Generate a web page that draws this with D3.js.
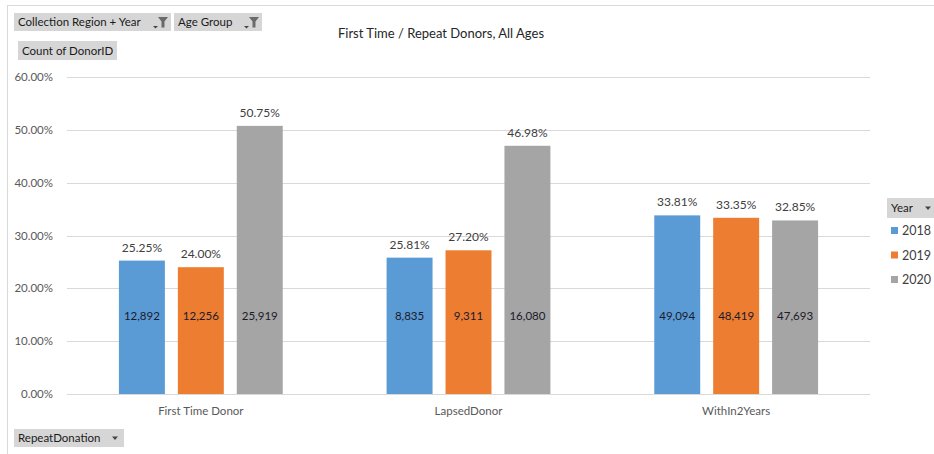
<!DOCTYPE html>
<html><head><meta charset="utf-8">
<script src="https://cdn.jsdelivr.net/npm/d3@7"></script>
<style>
body{margin:0;background:#fff;}
svg{display:block;font-family:Lato,"Noto Sans",sans-serif;}
</style></head>
<body><svg id="c" width="934" height="454"></svg>
<script>
const categories = ["First Time Donor", "LapsedDonor", "WithIn2Years"];
const years = ["2018", "2019", "2020"];
const pct2018 = [25.25, 25.81, 33.81];
const pct2019 = [24.00, 27.20, 33.35];
const pct2020 = [50.75, 46.98, 32.85];
const cnt2018 = [12892, 8835, 49094];
const cnt2019 = [12256, 9311, 48419];
const cnt2020 = [25919, 16080, 47693];
const yTicks = [0, 10, 20, 30, 40, 50, 60];
const colors = ["#5b9bd5", "#ed7d31", "#a5a5a5"];

const pcts = [pct2018, pct2019, pct2020];
const cnts = [cnt2018, cnt2019, cnt2020];
const rows = [];
categories.forEach((c, i) => years.forEach((yr, j) => rows.push({cat: c, year: yr, pct: pcts[j][i], cnt: cnts[j][i], k: j})));

const svg = d3.select("#c");
// outer border
svg.append("rect").attr("x", 7.5).attr("y", 5.5).attr("width", 940).attr("height", 460)
  .attr("fill", "none").attr("stroke", "#d9d9d9");

const L = 67, R = 870, T = 77, B = 394;
const y = d3.scaleLinear().domain([0, 60]).range([B, T]);
const x0 = d3.scaleBand().domain(categories).range([L, R]).padding(0);
const x1 = d3.scaleBand().domain(years).range([x0.bandwidth() * 0.194, x0.bandwidth() * 0.806]).paddingInner(0.22).paddingOuter(0);

// gridlines
svg.append("g").selectAll("line").data(yTicks).join("line")
  .attr("x1", L).attr("x2", R).attr("y1", d => Math.round(y(d)) + 0.5).attr("y2", d => Math.round(y(d)) + 0.5)
  .attr("stroke", "#d9d9d9").attr("stroke-width", 1);

// y axis labels
svg.append("g").selectAll("text").data(yTicks).join("text")
  .attr("x", 53).attr("y", d => y(d) + 4).attr("text-anchor", "end")
  .attr("font-size", 11.5).attr("fill", "#595959").text(d => d.toFixed(2) + "%");

// bars
const g = svg.append("g");
g.selectAll("rect").data(rows).join("rect")
  .attr("x", d => x0(d.cat) + x1(d.year)).attr("width", x1.bandwidth())
  .attr("y", d => y(d.pct)).attr("height", d => B - y(d.pct))
  .attr("fill", d => colors[d.k]);

// percent labels
g.selectAll("text.p").data(rows).join("text").attr("class", "p")
  .attr("x", d => x0(d.cat) + x1(d.year) + x1.bandwidth() / 2).attr("y", d => y(d.pct) - 9)
  .attr("text-anchor", "middle").attr("font-size", 12).attr("fill", "#404040")
  .text(d => d.pct.toFixed(2) + "%");

// count labels
const labelLevel = 14.8;
g.selectAll("text.c").data(rows).join("text").attr("class", "c")
  .attr("x", d => x0(d.cat) + x1(d.year) + x1.bandwidth() / 2).attr("y", y(labelLevel) + 4)
  .attr("text-anchor", "middle").attr("font-size", 11.5).attr("fill", "#1a1a2a")
  .text(d => d3.format(",")(d.cnt));

// category labels
svg.append("g").selectAll("text").data(categories).join("text")
  .attr("x", d => x0(d) + x0.bandwidth() / 2).attr("y", 415).attr("text-anchor", "middle")
  .attr("font-size", 11.5).attr("fill", "#595959").text(d => d);

// title
svg.append("text").attr("x", 441).attr("y", 38).attr("text-anchor", "middle")
  .attr("font-size", 13).attr("fill", "#262626").text("First Time / Repeat Donors, All Ages");

// field buttons
function button(x, yy, w, h, label, icon) {
  const b = svg.append("g");
  b.append("rect").attr("x", x).attr("y", yy).attr("width", w).attr("height", h).attr("fill", "#d6d6d6");
  b.append("text").attr("x", x + 4).attr("y", yy + h / 2 + 4).attr("font-size", 11.5).attr("fill", "#1a1a1a").text(label);
  if (icon === "filter") {
    const ix = x + w - 18, iy = yy + 4;
    b.append("path").attr("d", `M${ix},${iy + 9} l5,0 l-2.5,2.5 z`).attr("fill", "#444");
    b.append("path").attr("d", `M${ix + 5},${iy} l10,0 l-3.5,4.5 l0,6 l-3,0 l0,-6 z`).attr("fill", "#6a6a6a");
  } else if (icon === "drop") {
    const ix = x + w - 12, iy = yy + h / 2 - 1.5;
    b.append("path").attr("d", `M${ix},${iy} l6,0 l-3,3.5 z`).attr("fill", "#444");
  }
}
button(14, 13, 157, 18, "Collection Region + Year", "filter");
button(174, 13, 88, 18, "Age Group", "filter");
button(18, 41, 99, 19, "Count of DonorID", null);
button(887, 198, 50, 20, "Year", "drop");
button(14, 429, 110, 18, "RepeatDonation", "drop");

// legend
const leg = svg.append("g").selectAll("g").data(years).join("g")
  .attr("transform", (d, i) => `translate(891, ${231 + i * 24.5})`);
leg.append("rect").attr("x", 0).attr("y", -4).attr("width", 7).attr("height", 7).attr("fill", (d, i) => colors[i]);
leg.append("text").attr("x", 11).attr("y", 4).attr("font-size", 12.5).attr("fill", "#404040").text(d => d);
</script></body></html>
